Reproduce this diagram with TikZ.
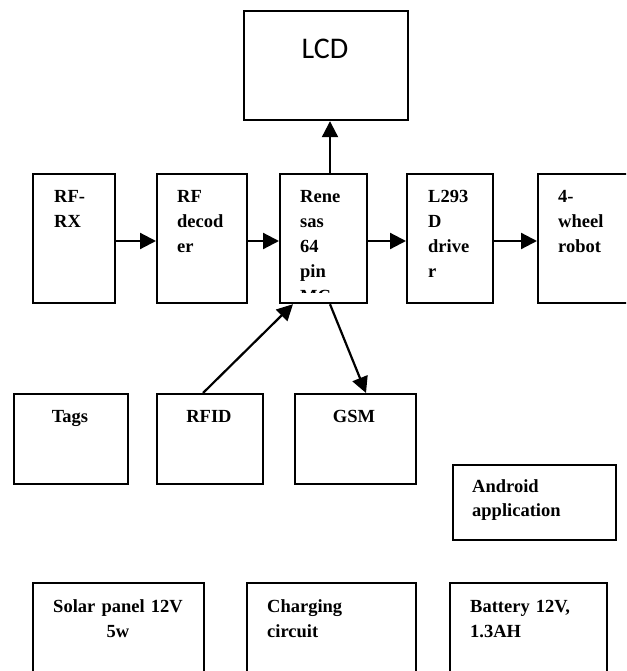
\documentclass[tikz,border=0pt]{standalone}
\usepackage{fontspec}
\setmainfont{Liberation Serif}
\newfontfamily\lcdfont{Carlito}
\usetikzlibrary{arrows.meta}
\tikzset{
  box/.style={draw, line width=2.2pt, rectangle, anchor=north west, inner sep=0pt},
  lbl/.style={font=\fontsize{18.5}{25}\selectfont\bfseries, inner sep=0pt, text width=160pt},
  lblL/.style={lbl, anchor=base west, align=left},
  lblC/.style={lbl, anchor=base, align=center},
  arr/.style={line width=2.2pt, -{Triangle[length=16pt,width=16pt]}}
}
\begin{document}
\begin{tikzpicture}[x=1pt,y=-1pt]
\useasboundingbox (0,0) rectangle (626,671);
\clip (0,0) rectangle (626,671);
% boxes
\node[box, minimum width=164pt, minimum height=109pt] (lcd) at (243,10) {};
\node[box, minimum width=82pt, minimum height=129pt] (rfrx) at (32,173) {};
\node[box, minimum width=90pt, minimum height=129pt] (rfdec) at (156,173) {};
\node[box, minimum width=87pt, minimum height=129pt] (ren) at (279,173) {};
\node[box, minimum width=86pt, minimum height=129pt] (l293) at (406,173) {};
\node[box, minimum width=110pt, minimum height=129pt] (robot) at (537,173) {};
\node[box, minimum width=114pt, minimum height=90pt] (tags) at (13,393) {};
\node[box, minimum width=106pt, minimum height=90pt] (rfid) at (156,393) {};
\node[box, minimum width=121pt, minimum height=90pt] (gsm) at (294,393) {};
\node[box, minimum width=163pt, minimum height=75pt] (android) at (452,464) {};
\node[box, minimum width=171pt, minimum height=110pt] (solar) at (32,582) {};
\node[box, minimum width=169pt, minimum height=110pt] (charge) at (246,582) {};
\node[box, minimum width=157pt, minimum height=110pt] (battery) at (449,582) {};
% texts
\node[inner sep=0pt, anchor=base, font=\lcdfont\fontsize{30}{36}\selectfont] (lcdt) at (325,59) {LCD};
\node[lblL] (rfrxt) at (54,202) {RF-\\RX};
\node[lblL] (rfdect) at (177,202) {RF\\decod\\er};
\begin{scope}
\clip (281,175) rectangle (364,292);
\node[lblL] (rent) at (300,202) {Rene\\sas\\64\\pin\\MC};
\end{scope}
\node[lblL] (l293t) at (428,202) {L293\\D\\drive\\r};
\node[lblL] (robott) at (558,202) {4-\\wheel\\robot};
\node[lblC] (tagst) at (70,422) {Tags};
\node[lblC] (rfidt) at (209,422) {RFID};
\node[lblC] (gsmt) at (354,422) {GSM};
\node[lblL, font=\fontsize{18.5}{24}\selectfont\bfseries] (androidt) at (472,492) {Android\\application};
\node[lblC, text width=200pt] (solart) at (118,612) {Solar panel 12V\\5w};
\node[lblL] (charget) at (267,612) {Charging\\circuit};
\node[lblL] (batteryt) at (470,612) {Battery 12V,\\1.3AH};
% connectors
\draw[arr] (ren.north -| 330,0) -- (lcd.south -| 330,0);
\draw[arr] (rfrx.east |- 0,241) -- (rfdec.west |- 0,241);
\draw[arr] (rfdec.east |- 0,241) -- (ren.west |- 0,241);
\draw[arr] (ren.east |- 0,241) -- (l293.west |- 0,241);
\draw[arr] (l293.east |- 0,241) -- (robot.west |- 0,241);
\draw[arr] (rfid.north -| 203,0) -- (ren.south -| 293,0);
\draw[arr] (ren.south -| 330,0) -- (gsm.north -| 366,0);
\end{tikzpicture}
\end{document}
